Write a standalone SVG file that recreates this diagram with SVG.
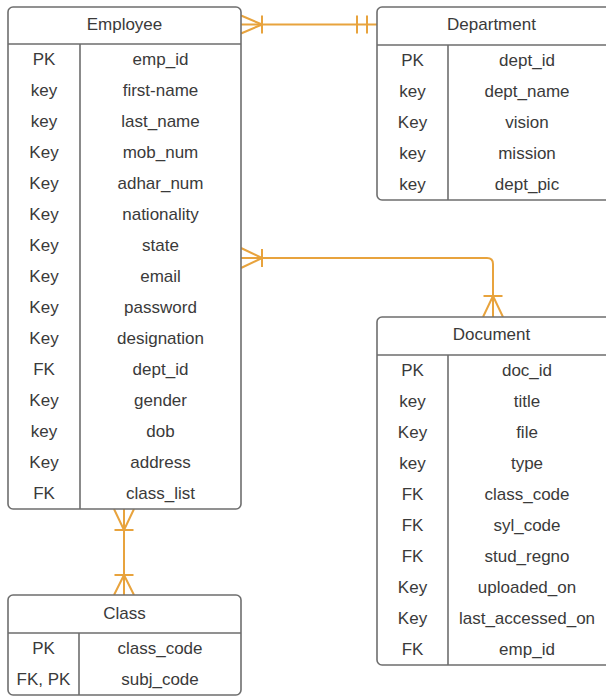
<svg xmlns="http://www.w3.org/2000/svg" width="606" height="697" viewBox="0 0 606 697">
<style>
.box{fill:#fff;stroke:#6e6e6e;stroke-width:1.6}
.ln{stroke:#6e6e6e;stroke-width:1.6;fill:none}
text{font-family:"Liberation Sans",Arial,sans-serif;font-size:17px;fill:#3a3a3a;text-anchor:middle}
.c{fill:none;stroke:#e8a33d;stroke-width:2;stroke-linecap:butt;stroke-linejoin:round}
</style>
<rect width="606" height="697" fill="#fff"/>
<g id="connectors">
<path class="c" d="M241 24.5 H377"/>
<path class="c" d="M241 15.5 L262 24.5 L241 33.5 M262 15.5 V33.5 M357 15.5 V33.5 M367 15.5 V33.5"/>
<path class="c" d="M241 258 H487 Q493 258 493 264 V317"/>
<path class="c" d="M241 248 L262 258 L241 268 M262 249 V267 M483 317 L493 296 L503 317 M483.5 296 H502.5"/>
<path class="c" d="M124 509 V595"/>
<path class="c" d="M114 509 L124 530 L134 509 M114.5 530 H133.5 M114 595 L124 575 L134 595 M114.5 575 H133.5"/>
</g>
<g id="employee">
<rect class="box" x="8" y="7" width="233" height="502" rx="5"/>
<path class="ln" d="M8 44 H241 M80 44 V509"/>
<text x="124.5" y="30">Employee</text>
<text x="44" y="64.5">PK</text><text x="160.5" y="64.5">emp_id</text>
<text x="44" y="95.5">key</text><text x="160.5" y="95.5">first-name</text>
<text x="44" y="126.5">key</text><text x="160.5" y="126.5">last_name</text>
<text x="44" y="157.5">Key</text><text x="160.5" y="157.5">mob_num</text>
<text x="44" y="188.5">Key</text><text x="160.5" y="188.5">adhar_num</text>
<text x="44" y="219.5">Key</text><text x="160.5" y="219.5">nationality</text>
<text x="44" y="250.5">Key</text><text x="160.5" y="250.5">state</text>
<text x="44" y="281.5">Key</text><text x="160.5" y="281.5">email</text>
<text x="44" y="312.5">Key</text><text x="160.5" y="312.5">password</text>
<text x="44" y="343.5">Key</text><text x="160.5" y="343.5">designation</text>
<text x="44" y="374.5">FK</text><text x="160.5" y="374.5">dept_id</text>
<text x="44" y="405.5">Key</text><text x="160.5" y="405.5">gender</text>
<text x="44" y="436.5">key</text><text x="160.5" y="436.5">dob</text>
<text x="44" y="467.5">Key</text><text x="160.5" y="467.5">address</text>
<text x="44" y="498.5">FK</text><text x="160.5" y="498.5">class_list</text>
</g>
<g id="department">
<rect class="box" x="377" y="7" width="240" height="193" rx="5"/>
<path class="ln" d="M377 45 H617 M448 45 V200"/>
<text x="491.5" y="30">Department</text>
<text x="412.5" y="65.5">PK</text><text x="527" y="65.5">dept_id</text>
<text x="412.5" y="96.5">key</text><text x="527" y="96.5">dept_name</text>
<text x="412.5" y="127.5">Key</text><text x="527" y="127.5">vision</text>
<text x="412.5" y="158.5">key</text><text x="527" y="158.5">mission</text>
<text x="412.5" y="189.5">key</text><text x="527" y="189.5">dept_pic</text>
</g>
<g id="document">
<rect class="box" x="377" y="317" width="240" height="348" rx="5"/>
<path class="ln" d="M377 355 H617 M448 355 V665"/>
<text x="491.5" y="340">Document</text>
<text x="412.5" y="375.5">PK</text><text x="527" y="375.5">doc_id</text>
<text x="412.5" y="406.5">key</text><text x="527" y="406.5">title</text>
<text x="412.5" y="437.5">Key</text><text x="527" y="437.5">file</text>
<text x="412.5" y="468.5">key</text><text x="527" y="468.5">type</text>
<text x="412.5" y="499.5">FK</text><text x="527" y="499.5">class_code</text>
<text x="412.5" y="530.5">FK</text><text x="527" y="530.5">syl_code</text>
<text x="412.5" y="561.5">FK</text><text x="527" y="561.5">stud_regno</text>
<text x="412.5" y="592.5">Key</text><text x="527" y="592.5">uploaded_on</text>
<text x="412.5" y="623.5">Key</text><text x="527" y="623.5">last_accessed_on</text>
<text x="412.5" y="654.5">FK</text><text x="527" y="654.5">emp_id</text>
</g>
<g id="class">
<rect class="box" x="8" y="595" width="233" height="100" rx="5"/>
<path class="ln" d="M8 633 H241 M79 633 V695"/>
<text x="124.5" y="619">Class</text>
<text x="43.5" y="653.5">PK</text><text x="160" y="653.5">class_code</text>
<text x="43.5" y="684.5">FK, PK</text><text x="160" y="684.5">subj_code</text>
</g>
</svg>
